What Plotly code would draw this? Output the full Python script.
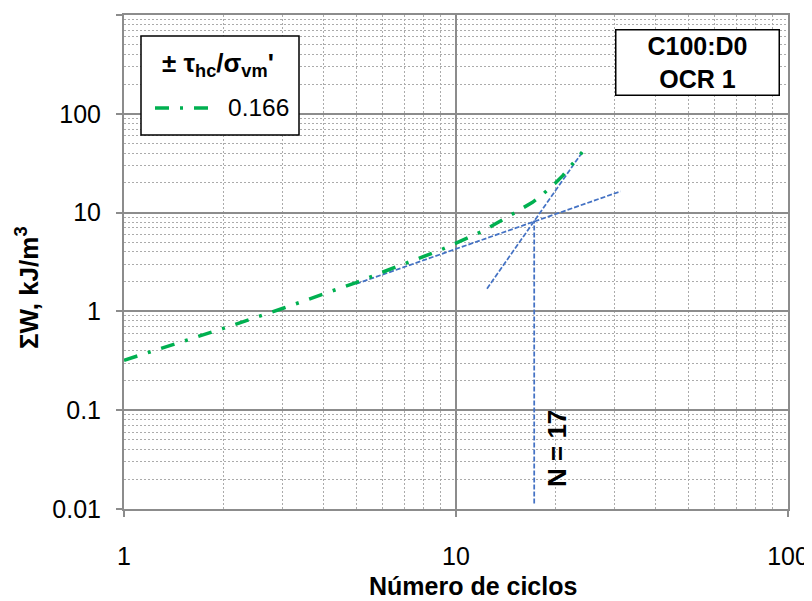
import plotly.graph_objects as go

# Green curve: cumulative dissipated energy per cycle
cycles = list(range(1, 25))
sum_w = [0.32, 0.676, 1.07, 1.49, 1.96, 2.49, 3.02, 3.60, 4.20, 4.91,
         5.68, 6.46, 7.52, 8.71, 9.89, 11.1, 12.7, 14.7, 17.1, 20.2,
         23.8, 28.4, 34.4, 41.0]
series_name = "0.166"

# Blue construction lines
fit1_x = [5.0, 31.3]
fit1_y = [1.9, 16.4]
fit2_x = [12.4, 24.1]
fit2_y = [1.7, 41.6]
n_x = [17.2, 17.2]
n_y = [0.0114, 8.3]

y_ticks = [0.01, 0.1, 1, 10, 100, 1000]
y_ticktext = ["0.01", "0.1", "1", "10", "100", ""]
x_ticks = [1, 10, 100]
x_ticktext = ["1", "10", "100"]

FONT = "Liberation Sans, Arial, sans-serif"
GREEN = "#00B050"
BLUE = "#4472C4"
GRID = "#8C8C8C"
MINOR = "#ABABAB"
BLUE_LINE = dict(color=BLUE, width=1.75, dash="5px,2px")

fig = go.Figure()
fig.add_trace(go.Scatter(x=fit1_x, y=fit1_y, mode="lines", showlegend=False,
                         line=BLUE_LINE))
fig.add_trace(go.Scatter(x=fit2_x, y=fit2_y, mode="lines", showlegend=False,
                         line=BLUE_LINE))
fig.add_trace(go.Scatter(x=n_x, y=n_y, mode="lines", showlegend=False,
                         line=BLUE_LINE))
fig.add_trace(go.Scatter(x=cycles, y=sum_w, mode="lines", name=series_name,
                         showlegend=False,
                         line=dict(color=GREEN, width=3.5, dash="14px,11px,3px,11px")))

axis_common = dict(
    type="log", showline=True, linecolor=GRID, linewidth=2, mirror=True,
    showgrid=True, gridcolor=GRID, gridwidth=2,
    ticks="outside", ticklen=6, tickwidth=2, tickcolor=GRID,
    tickfont=dict(family=FONT, size=25, color="#000000"),
    zeroline=False, automargin=False,
)
minor_common = dict(tickmode="linear", dtick="D1", showgrid=True,
                    gridcolor=MINOR, griddash="2px,2px", gridwidth=1, ticks="")

fig.update_xaxes(**axis_common, range=[0, 2], tickmode="array",
                 tickvals=x_ticks, ticktext=x_ticktext, ticklabelstandoff=18,
                 minor=minor_common)
fig.update_yaxes(**axis_common, range=[-2, 3], tickmode="array",
                 tickvals=y_ticks, ticktext=y_ticktext, ticklabelstandoff=10,
                 minor=minor_common)

# The page body adds an 8 px offset, so the figure is laid out in page pixels - 8
OFF = 8
W, H = 812 - OFF, 601 - OFF
L, R, T, B = 124 - OFF, 24, 15 - OFF, 92
pw, ph = W - L - R, H - T - B


def px(x):
    return (x - OFF - L) / pw


def py(y):
    return (H - B - (y - OFF)) / ph


shapes = [
    # legend box
    dict(type="rect", xref="paper", yref="paper", x0=px(141), x1=px(299),
         y0=py(135), y1=py(36), fillcolor="white",
         line=dict(color="black", width=1.5), layer="above"),
    # legend sample
    dict(type="line", xref="paper", yref="paper", x0=px(155), x1=px(213),
         y0=py(108), y1=py(108),
         line=dict(color=GREEN, width=3.5, dash="14px,11px,3px,11px"), layer="above"),
]

ann_common = dict(xref="paper", yref="paper", showarrow=False,
                  xanchor="center", yanchor="middle")
annotations = [
    dict(text="<b>± τ<sub>hc</sub>/σ<sub>vm</sub>'</b>", x=px(218), y=py(65),
         font=dict(family=FONT, size=26, color="black"), **ann_common),
    dict(text=series_name, x=px(258), y=py(108),
         font=dict(family=FONT, size=24.5, color="black"), **ann_common),
    dict(text="<b>C100:D0<br>OCR 1</b>", x=px(697), y=py(62.5),
         width=158, height=60, bgcolor="white", bordercolor="black",
         borderwidth=1.5, borderpad=2,
         font=dict(family=FONT, size=25, color="black"), **ann_common),
    dict(text="<b>N = 17</b>", x=px(557), y=py(449), textangle=-90,
         font=dict(family=FONT, size=26, color="black"), **ann_common),
    dict(text="<b>Número de ciclos</b>", x=px(473), y=py(586),
         font=dict(family=FONT, size=25, color="black"), **ann_common),
    dict(text="<b>ΣW, kJ/m<sup>3</sup></b>", x=px(28), y=py(288), textangle=-90,
         font=dict(family=FONT, size=26, color="black"), **ann_common),
]

fig.update_layout(
    width=W, height=H,
    margin=dict(l=L, r=R, t=T, b=B, autoexpand=False),
    paper_bgcolor="white", plot_bgcolor="white",
    shapes=shapes, annotations=annotations,
    font=dict(family=FONT),
)

fig.write_html("out.html")
